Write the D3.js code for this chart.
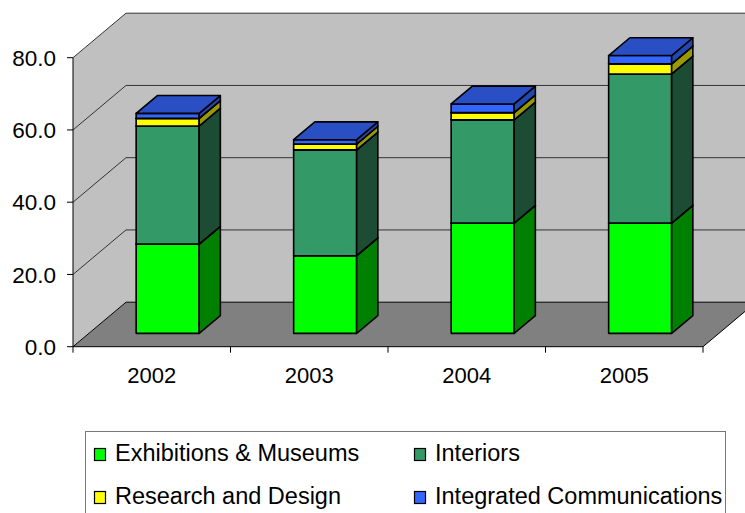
<!DOCTYPE html>
<html lang="en">
<head>
<meta charset="UTF-8">
<title>Chart</title>
<script src="https://cdnjs.cloudflare.com/ajax/libs/d3/7.8.5/d3.min.js"></script>
<style>
    body{ margin:0; background:#fff; font-family:"Liberation Sans", Arial, sans-serif; }
    svg{ display:block; }
</style>
</head>
<body>
<svg id="chart" width="745" height="513"></svg>
<script>
// data
const years = ["2002", "2003", "2004", "2005"];
const seriesNames = ["Exhibitions & Museums", "Interiors", "Research and Design", "Integrated Communications"];
const exhibitions = [24.7, 21.5, 30.5, 30.5];
const interiors = [32.7, 29.3, 28.6, 41.3];
const research = [2.1, 1.6, 2.0, 2.8];
const integrated = [1.4, 1.2, 2.4, 2.3];
const yTicks = [0, 20, 40, 60, 80];

const frontCol = ["#00ff00", "#339966", "#ffff00", "#3366ff"];
const sideCol  = ["#008000", "#1c4d34", "#999900", "#2347b0"];
const topCol   = ["#00cc00", "#2a7a52", "#cccc00", "#2a4fc4"];

const svg = d3.select("#chart");

// plot geometry (oblique 3d)
const left = 73, right = 703, bottom = 346.7, topY = 57.7;
const depthX = 53, depthY = -44.5;
const barZ0 = 0.3, barZ1 = 0.7;

const y = d3.scaleLinear().domain([0, 80]).range([bottom, topY]);
const x = d3.scaleBand().domain(years).range([left, right]).paddingInner(0.6).paddingOuter(0.3);
const step = x.step();

const P = (px, py, z) => [px + z * depthX, py + z * depthY];
const poly = pts => "M" + pts.map(p => p.join(",")).join("L") + "Z";

// walls
const wall = "#c0c0c0", floor = "#808080";
const farRight = right + depthX;
svg.append("path") // side wall
    .attr("d", poly([P(left, y(0), 0), P(left, y(80), 0), P(left, y(80), 1), P(left, y(0), 1)]))
    .attr("fill", wall);
svg.append("path") // back wall
    .attr("d", poly([P(left, y(0), 1), P(left, y(80), 1), P(right, y(80), 1), P(right, y(0), 1)]))
    .attr("fill", wall);
svg.append("path") // floor
    .attr("d", poly([P(left, y(0), 0), P(left, y(0), 1), P(right, y(0), 1), P(right, y(0), 0)]))
    .attr("fill", floor);

// gridlines
svg.append("g").selectAll("path")
    .data(yTicks)
    .join("path")
    .attr("d", d => d3.line()([P(left, y(d), 0), P(left, y(d), 1), P(right, y(d), 1)]))
    .attr("fill", "none")
    .attr("stroke", d => d === 0 ? "#000" : "#333")
    .attr("stroke-width", 1);
svg.append("path")
    .attr("d", d3.line()([P(right, y(0), 0), P(right, y(0), 1)]))
    .attr("stroke", "#000").attr("stroke-width", 1);

// axes
svg.append("line")
    .attr("x1", left).attr("x2", left).attr("y1", y(80)).attr("y2", y(0) + 6)
    .attr("stroke", "#000");
svg.append("line")
    .attr("x1", left).attr("x2", right).attr("y1", y(0)).attr("y2", y(0))
    .attr("stroke", "#000");

const yAxis = svg.append("g");
yAxis.selectAll("line").data(yTicks).join("line")
    .attr("x1", left - 6).attr("x2", left).attr("y1", d => y(d)).attr("y2", d => y(d))
    .attr("stroke", "#000");
yAxis.selectAll("text").data(yTicks).join("text")
    .attr("x", 56).attr("y", d => y(d)).attr("dy", "0.36em")
    .attr("text-anchor", "end").attr("font-size", "22.5px")
    .text(d => d3.format(".1f")(d));

const xAxis = svg.append("g");
const bounds = years.map(d => x(d) - x.paddingOuter() * step + step);
xAxis.selectAll("line").data(bounds).join("line")
    .attr("x1", d => d).attr("x2", d => d).attr("y1", y(0)).attr("y2", y(0) + 6)
    .attr("stroke", "#000");
xAxis.selectAll("text").data(years).join("text")
    .attr("x", d => x(d) + x.bandwidth() / 2).attr("y", 382.7)
    .attr("text-anchor", "middle").attr("font-size", "22px")
    .text(d => d);

// stacked 3d bars
const table = years.map((yr, i) => ({
    year: yr, s0: exhibitions[i], s1: interiors[i], s2: research[i], s3: integrated[i]
}));
const stack = d3.stack().keys(["s0", "s1", "s2", "s3"])(table);

const bars = svg.append("g");
years.forEach((yr, i) => {
    const x0 = x(yr), x1 = x(yr) + x.bandwidth();
    const g = bars.append("g");
    stack.forEach((layer, k) => {
        const lo = y(layer[i][0]), hi = y(layer[i][1]);
        const faces = [
            { d: [P(x0, lo, barZ0), P(x1, lo, barZ0), P(x1, hi, barZ0), P(x0, hi, barZ0)], c: frontCol[k] },
            { d: [P(x1, lo, barZ0), P(x1, lo, barZ1), P(x1, hi, barZ1), P(x1, hi, barZ0)], c: sideCol[k] },
            { d: [P(x0, hi, barZ0), P(x1, hi, barZ0), P(x1, hi, barZ1), P(x0, hi, barZ1)], c: topCol[k] }
        ];
        g.selectAll(null).data(faces).join("path")
            .attr("d", f => poly(f.d))
            .attr("fill", f => f.c)
            .attr("stroke", "#000")
            .attr("stroke-width", 1.6)
            .attr("stroke-linejoin", "round");
    });
});

// legend
const legend = svg.append("g");
legend.append("rect")
    .attr("x", 85.5).attr("y", 431.5).attr("width", 640).attr("height", 120)
    .attr("fill", "#fff").attr("stroke", "#777").attr("stroke-width", 1);
const legPos = [[94, 448], [414, 448], [94, 491], [414, 491]];
seriesNames.forEach((name, k) => {
    const [lx, ly] = legPos[k];
    legend.append("rect")
        .attr("x", lx + 0.5).attr("y", ly + 0.5).attr("width", 11).attr("height", 12)
        .attr("fill", frontCol[k]).attr("stroke", "#000").attr("stroke-width", 1.2);
    legend.append("text")
        .attr("x", lx + 21).attr("y", ly + 13)
        .attr("font-size", "23.5px")
        .text(name);
});
</script>
</body>
</html>
